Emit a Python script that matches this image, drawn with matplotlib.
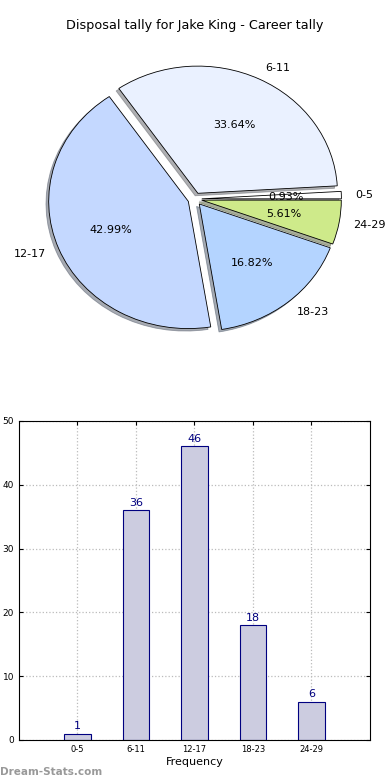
import numpy as np
import matplotlib
matplotlib.use('Agg')
import matplotlib.pyplot as plt

# disposal tally for Jake King, career
ranges = ['0-5', '6-11', '12-17', '18-23', '24-29']
counts = [1, 36, 46, 18, 6]
pie_colors = ['#ffffff', '#eaf1ff', '#c4d8ff', '#b4d4ff', '#ceea8a']

fig = plt.figure(figsize=(3.9, 7.8), dpi=100)

# pie on top
ax1 = fig.add_axes([0.052, 0.541, 0.895, 0.4077])
wedges, texts, autotexts = ax1.pie(counts, labels=ranges, colors=pie_colors,
                                   explode=[0.05] * len(counts),
                                   shadow={'ox': -0.014, 'oy': -0.014, 'shade': 0.6},
                                   autopct='%1.2f%%', startangle=0,
                                   wedgeprops={'edgecolor': 'black', 'linewidth': 0.6},
                                   textprops={'fontsize': 8})
ax1.set_aspect('auto')
ax1.set_xlim(-1.25, 1.25)
ax1.set_ylim(-1.25, 1.25)
ax1.set_title('Disposal tally for Jake King - Career tally', fontsize=9.2, pad=8)

# bar chart below
ax2 = fig.add_axes([0.0487, 0.0513, 0.9, 0.409])
x = np.arange(len(ranges))
ax2.bar(x, counts, width=0.45, color='#cccce0', edgecolor='#000080', linewidth=0.8, zorder=2)
for xi, c in zip(x, counts):
    ax2.text(xi, c + 0.4, str(c), ha='center', va='bottom', color='#000080', fontsize=8)
ax2.set_xlim(-1, 5)
ax2.set_ylim(0, 50)
ax2.set_xticks(x)
ax2.set_xticklabels(ranges, fontsize=6)
ax2.set_yticks(range(0, 51, 10))
ax2.tick_params(axis='y', labelsize=6.5)
ax2.tick_params(direction='in', top=True, right=True, length=3)
ax2.grid(True, linestyle=':', color='#bbbbbb', linewidth=0.9, zorder=0)
ax2.set_axisbelow(True)
ax2.set_xlabel('Frequency', fontsize=8, labelpad=2)

fig.text(0.0, 0.007, 'Dream-Stats.com', color='#999999', fontsize=7.5, fontweight='bold')

plt.savefig('out.png', dpi=100)
